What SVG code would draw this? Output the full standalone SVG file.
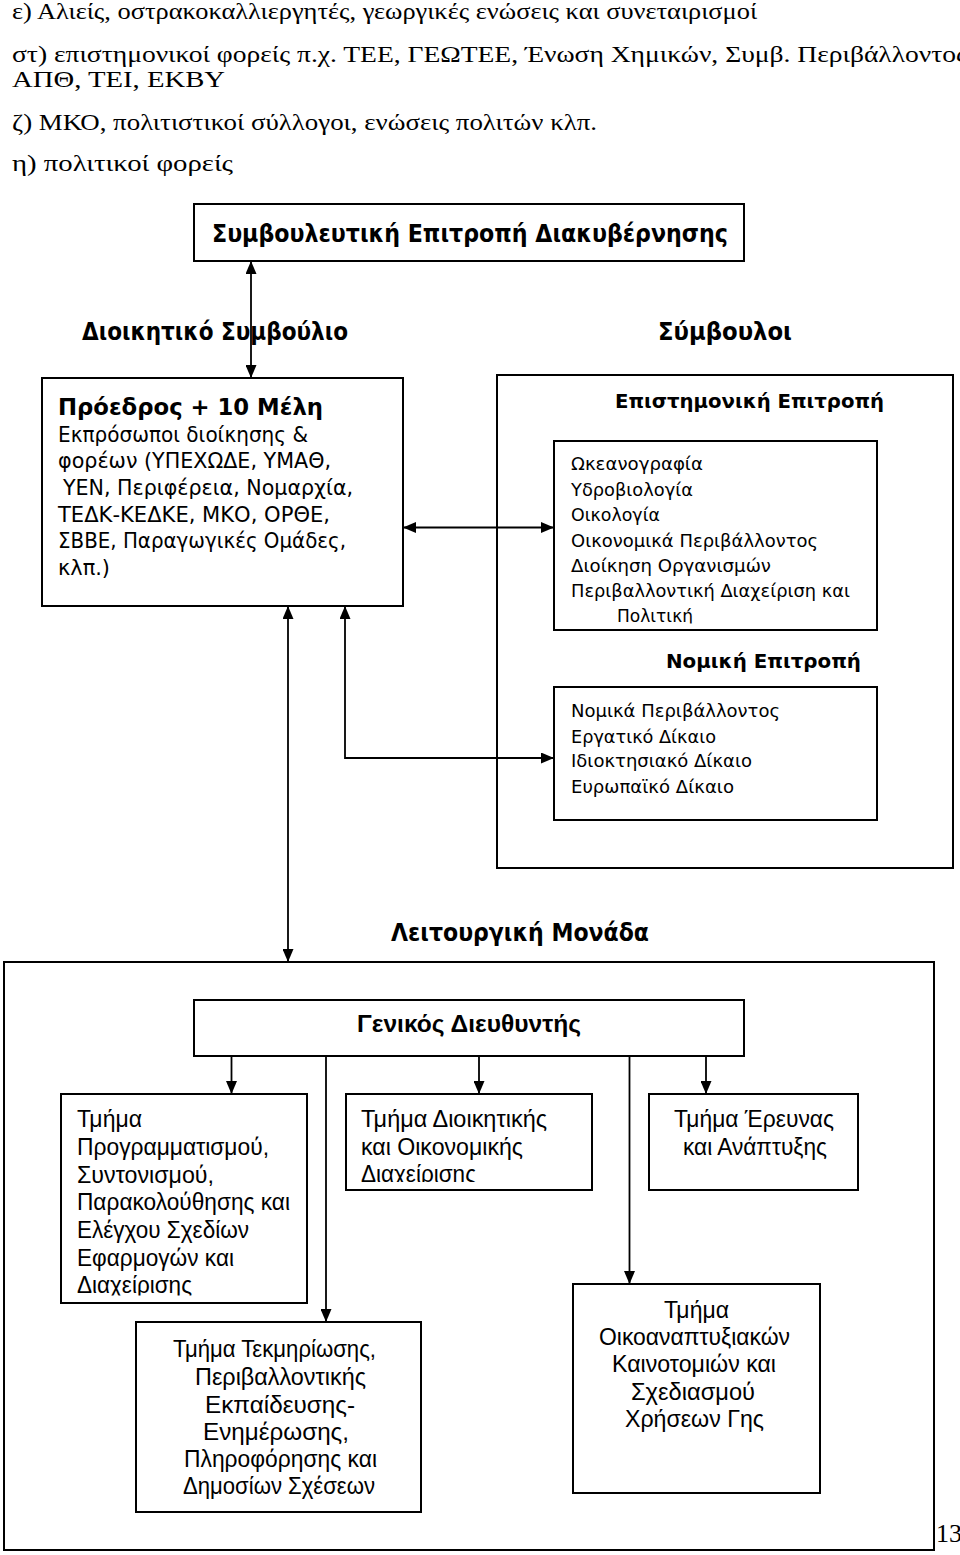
<svg xmlns="http://www.w3.org/2000/svg" width="960" height="1555" viewBox="0 0 960 1555">
<style>
.bx{fill:none;stroke:#000;stroke-width:2}
.ln{fill:none;stroke:#000;stroke-width:1.8}
.ser{font-family:"Liberation Serif","Times New Roman",serif;font-size:24px;fill:#000}
.hb{font-family:"DejaVu Sans",Verdana,sans-serif;font-weight:bold;fill:#000}
.vr{font-family:"DejaVu Sans",Verdana,sans-serif;fill:#000}
.nr{font-family:"Liberation Sans",Arial,sans-serif;font-size:23px;fill:#000}
</style>
<defs>
<marker id="ah" markerUnits="userSpaceOnUse" markerWidth="13" markerHeight="11" refX="13" refY="5.5" orient="auto-start-reverse">
<path d="M0,0 L13,5.5 L0,11 Z" fill="#000"/>
</marker>
<clipPath id="c1"><rect x="554" y="441" width="323" height="182.5"/></clipPath>
<clipPath id="c2"><rect x="61" y="1094" width="246" height="201.5"/></clipPath>
<clipPath id="c3"><rect x="346" y="1094" width="246" height="88"/></clipPath>
</defs>

<g id="intro-text">
<text class="ser" x="12" y="19" textLength="745" lengthAdjust="spacingAndGlyphs">ε) Αλιείς, οστρακοκαλλιεργητές, γεωργικές ενώσεις και συνεταιρισμοί</text>
<text class="ser" x="12" y="62" textLength="955" lengthAdjust="spacingAndGlyphs">στ) επιστημονικοί φορείς π.χ. ΤΕΕ, ΓΕΩΤΕΕ, Ένωση Χημικών, Συμβ. Περιβάλλοντος</text>
<text class="ser" x="12" y="87" textLength="213" lengthAdjust="spacingAndGlyphs">ΑΠΘ, ΤΕΙ, ΕΚΒΥ</text>
<text class="ser" x="12" y="130" textLength="585" lengthAdjust="spacingAndGlyphs">ζ) ΜΚΟ, πολιτιστικοί σύλλογοι, ενώσεις πολιτών κλπ.</text>
<text class="ser" x="12" y="171" textLength="221" lengthAdjust="spacingAndGlyphs">η) πολιτικοί φορείς</text>
</g>

<g id="advisory-committee">
<rect class="bx" x="194" y="204" width="550" height="57"/>
<text class="hb" x="212" y="242" font-size="24" textLength="516" lengthAdjust="spacingAndGlyphs">Συμβουλευτική Επιτροπή Διακυβέρνησης</text>
</g>

<g id="board-title">
<text class="hb" x="82" y="340" font-size="24" textLength="266" lengthAdjust="spacingAndGlyphs">Διοικητικό Συμβούλιο</text>
</g>
<g id="advisors-title">
<text class="hb" x="658" y="340" font-size="24" textLength="134" lengthAdjust="spacingAndGlyphs">Σύμβουλοι</text>
</g>

<g id="board">
<rect class="bx" x="42" y="378" width="361" height="228"/>
<text class="hb" x="58" y="415" font-size="23" textLength="265" lengthAdjust="spacingAndGlyphs">Πρόεδρος + 10 Μέλη</text>
<text class="vr" font-size="21" x="58" y="442" textLength="250" lengthAdjust="spacingAndGlyphs">Εκπρόσωποι διοίκησης &amp;</text>
<text class="vr" font-size="21" x="58" y="468" textLength="273" lengthAdjust="spacingAndGlyphs">φορέων (ΥΠΕΧΩΔΕ, ΥΜΑΘ,</text>
<text class="vr" font-size="21" x="63" y="495" textLength="290" lengthAdjust="spacingAndGlyphs">ΥΕΝ, Περιφέρεια, Νομαρχία,</text>
<text class="vr" font-size="21" x="58" y="522" textLength="272" lengthAdjust="spacingAndGlyphs">ΤΕΔΚ-ΚΕΔΚΕ, ΜΚΟ, ΟΡΘΕ,</text>
<text class="vr" font-size="21" x="58" y="548" textLength="288" lengthAdjust="spacingAndGlyphs">ΣΒΒΕ, Παραγωγικές Ομάδες,</text>
<text class="vr" font-size="21" x="58" y="575" textLength="52" lengthAdjust="spacingAndGlyphs">κλπ.)</text>
</g>

<g id="advisors">
<rect class="bx" x="497" y="375" width="456" height="493"/>
<text class="hb" x="615" y="408" font-size="20" textLength="269" lengthAdjust="spacingAndGlyphs">Επιστημονική Επιτροπή</text>
<text class="hb" x="666" y="668" font-size="20" textLength="195" lengthAdjust="spacingAndGlyphs">Νομική Επιτροπή</text>
</g>

<g id="scientific-committee">
<rect class="bx" x="554" y="441" width="323" height="189"/>
<g clip-path="url(#c1)">
<text class="vr" font-size="18" x="571" y="470" textLength="132" lengthAdjust="spacingAndGlyphs">Ωκεανογραφία</text>
<text class="vr" font-size="18" x="571" y="495.7" textLength="122" lengthAdjust="spacingAndGlyphs">Υδροβιολογία</text>
<text class="vr" font-size="18" x="571" y="521" textLength="89" lengthAdjust="spacingAndGlyphs">Οικολογία</text>
<text class="vr" font-size="18" x="571" y="546.7" textLength="247" lengthAdjust="spacingAndGlyphs">Οικονομικά Περιβάλλοντος</text>
<text class="vr" font-size="18" x="571" y="572" textLength="200" lengthAdjust="spacingAndGlyphs">Διοίκηση Οργανισμών</text>
<text class="vr" font-size="18" x="571" y="597" textLength="279" lengthAdjust="spacingAndGlyphs">Περιβαλλοντική Διαχείριση και</text>
<text class="vr" font-size="18" x="617" y="622" textLength="76" lengthAdjust="spacingAndGlyphs">Πολιτική</text>
</g>
</g>

<g id="legal-committee">
<rect class="bx" x="554" y="687" width="323" height="133"/>
<text class="vr" font-size="18" x="571" y="717.3" textLength="209" lengthAdjust="spacingAndGlyphs">Νομικά Περιβάλλοντος</text>
<text class="vr" font-size="18" x="571" y="742.7" textLength="145" lengthAdjust="spacingAndGlyphs">Εργατικό Δίκαιο</text>
<text class="vr" font-size="18" x="571" y="767.3" textLength="181" lengthAdjust="spacingAndGlyphs">Ιδιοκτησιακό Δίκαιο</text>
<text class="vr" font-size="18" x="571" y="792.7" textLength="163" lengthAdjust="spacingAndGlyphs">Ευρωπαϊκό Δίκαιο</text>
</g>

<g id="operational-title">
<text class="hb" x="391" y="941" font-size="24" textLength="258" lengthAdjust="spacingAndGlyphs">Λειτουργική Μονάδα</text>
</g>

<g id="operational-unit">
<rect class="bx" x="4" y="962" width="930" height="588"/>
</g>

<g id="general-director">
<rect class="bx" x="194" y="1000" width="550" height="56"/>
<text class="nr" x="357" y="1032" font-size="21" font-weight="bold" textLength="224" lengthAdjust="spacingAndGlyphs">Γενικός Διευθυντής</text>
</g>

<g id="dept-programming">
<rect class="bx" x="61" y="1094" width="246" height="209"/>
<g clip-path="url(#c2)">
<text class="nr" x="77" y="1127" textLength="65" lengthAdjust="spacingAndGlyphs">Τμήμα</text>
<text class="nr" x="77" y="1155" textLength="192" lengthAdjust="spacingAndGlyphs">Προγραμματισμού,</text>
<text class="nr" x="77" y="1183" textLength="137" lengthAdjust="spacingAndGlyphs">Συντονισμού,</text>
<text class="nr" x="77" y="1210" textLength="213" lengthAdjust="spacingAndGlyphs">Παρακολούθησης και</text>
<text class="nr" x="77" y="1238" textLength="172" lengthAdjust="spacingAndGlyphs">Ελέγχου Σχεδίων</text>
<text class="nr" x="77" y="1266" textLength="157" lengthAdjust="spacingAndGlyphs">Εφαρμογών και</text>
<text class="nr" x="77" y="1293" textLength="115" lengthAdjust="spacingAndGlyphs">Διαχείρισης</text>
</g>
</g>

<g id="dept-admin">
<rect class="bx" x="346" y="1094" width="246" height="96"/>
<g clip-path="url(#c3)">
<text class="nr" x="361" y="1127" textLength="186" lengthAdjust="spacingAndGlyphs">Τμήμα Διοικητικής</text>
<text class="nr" x="361" y="1155" textLength="162" lengthAdjust="spacingAndGlyphs">και Οικονομικής</text>
<text class="nr" x="361" y="1182" textLength="115" lengthAdjust="spacingAndGlyphs">Διαχείρισης</text>
</g>
</g>

<g id="dept-research">
<rect class="bx" x="649" y="1094" width="209" height="96"/>
<text class="nr" x="674" y="1127" textLength="160" lengthAdjust="spacingAndGlyphs">Τμήμα Έρευνας</text>
<text class="nr" x="683" y="1155" textLength="144" lengthAdjust="spacingAndGlyphs">και Ανάπτυξης</text>
</g>

<g id="dept-eco">
<rect class="bx" x="573" y="1284" width="247" height="209"/>
<text class="nr" x="664" y="1318" textLength="65" lengthAdjust="spacingAndGlyphs">Τμήμα</text>
<text class="nr" x="599" y="1345" textLength="191" lengthAdjust="spacingAndGlyphs">Οικοαναπτυξιακών</text>
<text class="nr" x="612" y="1372" textLength="164" lengthAdjust="spacingAndGlyphs">Καινοτομιών και</text>
<text class="nr" x="631" y="1400" textLength="124" lengthAdjust="spacingAndGlyphs">Σχεδιασμού</text>
<text class="nr" x="625" y="1427" textLength="139" lengthAdjust="spacingAndGlyphs">Χρήσεων Γης</text>
</g>

<g id="dept-documentation">
<rect class="bx" x="136" y="1322" width="285" height="190"/>
<text class="nr" x="173" y="1357" textLength="203" lengthAdjust="spacingAndGlyphs">Τμήμα Τεκμηρίωσης,</text>
<text class="nr" x="195" y="1385" textLength="171" lengthAdjust="spacingAndGlyphs">Περιβαλλοντικής</text>
<text class="nr" x="205" y="1413" textLength="150" lengthAdjust="spacingAndGlyphs">Εκπαίδευσης-</text>
<text class="nr" x="203" y="1440" textLength="146" lengthAdjust="spacingAndGlyphs">Ενημέρωσης,</text>
<text class="nr" x="184" y="1467" textLength="193" lengthAdjust="spacingAndGlyphs">Πληροφόρησης και</text>
<text class="nr" x="183" y="1494" textLength="192" lengthAdjust="spacingAndGlyphs">Δημοσίων Σχέσεων</text>
</g>

<g id="page-number">
<text x="936" y="1542" font-family="Liberation Serif, serif" font-size="26" fill="#000">13</text>
</g>

<g id="connectors">
<line class="ln" x1="251" y1="378" x2="251" y2="261" marker-start="url(#ah)" marker-end="url(#ah)"/>
<line class="ln" x1="403" y1="527.5" x2="554" y2="527.5" marker-start="url(#ah)" marker-end="url(#ah)"/>
<polyline class="ln" points="345,606 345,758 554,758" marker-start="url(#ah)" marker-end="url(#ah)"/>
<line class="ln" x1="288" y1="606" x2="288" y2="962" marker-start="url(#ah)" marker-end="url(#ah)"/>
<line class="ln" x1="231.5" y1="1056" x2="231.5" y2="1094" marker-end="url(#ah)"/>
<line class="ln" x1="326" y1="1056" x2="326" y2="1322" marker-end="url(#ah)"/>
<line class="ln" x1="479" y1="1056" x2="479" y2="1094" marker-end="url(#ah)"/>
<line class="ln" x1="629.5" y1="1056" x2="629.5" y2="1284" marker-end="url(#ah)"/>
<line class="ln" x1="706" y1="1056" x2="706" y2="1094" marker-end="url(#ah)"/>
</g>
</svg>
